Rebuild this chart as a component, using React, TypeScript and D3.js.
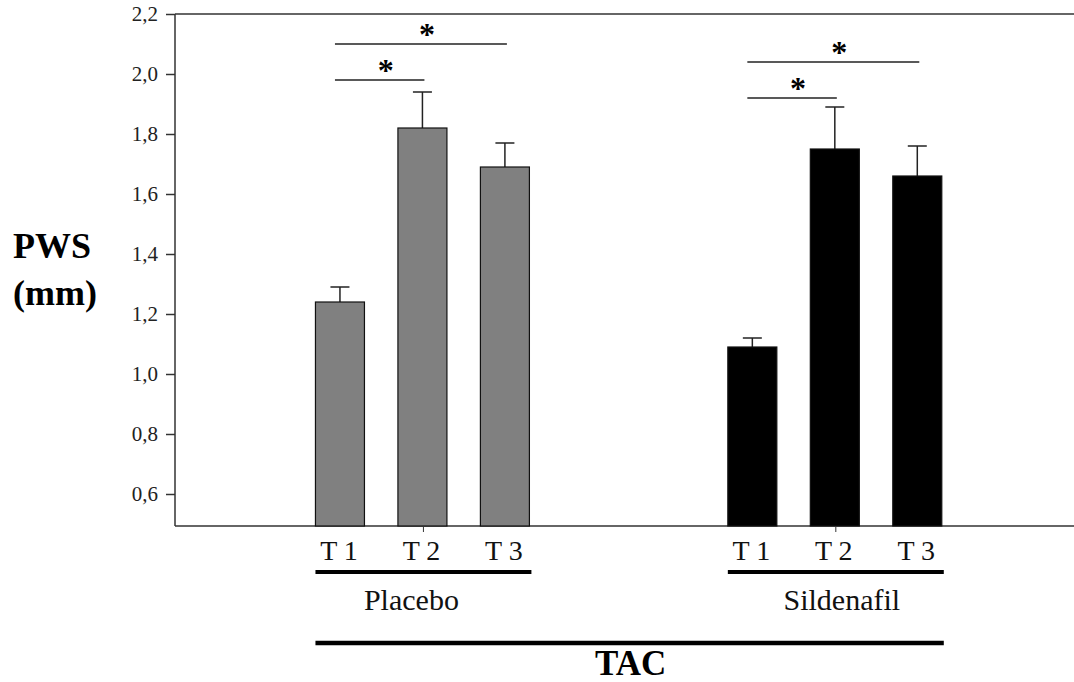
import React, { useRef, useEffect } from "react"
import * as d3 from "d3"

// values
const groups = ["Placebo", "Sildenafil"]
const times = ["T 1", "T 2", "T 3"]
const placeboMeans = [1.24, 1.82, 1.69]
const placeboErrTops = [1.29, 1.94, 1.77]
const sildenafilMeans = [1.09, 1.75, 1.66]
const sildenafilErrTops = [1.12, 1.89, 1.76]
const yTicks = [0.6, 0.8, 1.0, 1.2, 1.4, 1.6, 1.8, 2.0, 2.2]
// significance brackets: group, from time, to time, height (axis units)
const sigGroup = [0, 0, 1, 1]
const sigFrom = [0, 0, 0, 0]
const sigTo = [2, 1, 2, 1]
const sigLevel = [2.1, 1.98, 2.04, 1.92]

const W = 1074
const H = 682

const App = () => {
    const ref = useRef<SVGSVGElement>(null)

    useEffect(() => {
        const svg = d3.select(ref.current)
        svg.selectAll("*").remove()

        const left = 175
        const y = d3.scaleLinear().domain([0.5, 2.2]).range([524, 14])
        const yBottom = 526
        // slot scale: each time point takes one slot, groups are 5 slots apart
        const x = d3.scaleLinear().domain([0, 10.9]).range([left, W])
        const slot = (g: number, t: number) => x(g * 5 + t + 2)
        const barW = 49
        const axisColor = "#333"
        const serif = "'Liberation Serif', 'Times New Roman', serif"

        const rows = [
            { means: placeboMeans, errs: placeboErrTops, fill: "#808080" },
            { means: sildenafilMeans, errs: sildenafilErrTops, fill: "#000" },
        ]
        const bars = rows.flatMap((r, g) => r.means.map((m, t) => ({ g, t, m, e: r.errs[t], fill: r.fill })))

        // frame lines
        svg.append("line").attr("x1", left).attr("x2", W).attr("y1", y(2.2)).attr("y2", y(2.2))
            .attr("stroke", axisColor).attr("stroke-width", 1.5)
        svg.append("line").attr("x1", left).attr("x2", W).attr("y1", yBottom).attr("y2", yBottom)
            .attr("stroke", axisColor).attr("stroke-width", 1.5)

        // error bars (behind bars)
        const eb = svg.append("g").attr("stroke", "#222").attr("stroke-width", 1.5)
        bars.forEach(d => {
            const cx = slot(d.g, d.t)
            eb.append("line").attr("x1", cx).attr("x2", cx).attr("y1", y(d.m)).attr("y2", y(d.e))
            eb.append("line").attr("x1", cx - 9.5).attr("x2", cx + 9.5).attr("y1", y(d.e)).attr("y2", y(d.e))
        })

        svg.append("g").selectAll("rect").data(bars).enter().append("rect")
            .attr("x", d => slot(d.g, d.t) - barW / 2)
            .attr("width", barW)
            .attr("y", d => y(d.m))
            .attr("height", d => yBottom - y(d.m))
            .attr("fill", d => d.fill)
            .attr("stroke", "#111")
            .attr("stroke-width", 1.2)

        // y axis
        const yAxis = d3.axisLeft(y).tickValues(yTicks).tickSize(9).tickPadding(8)
            .tickFormat(d => d3.format(".1f")(d as number).replace(".", ","))
        const ya = svg.append("g").attr("transform", `translate(${left},0)`).call(yAxis)
            .attr("font-family", serif).attr("font-size", 21)
        ya.select(".domain").attr("d", `M0,${y(2.2)}V${yBottom}`).attr("stroke", axisColor).attr("stroke-width", 1.5)
        ya.selectAll(".tick line").attr("stroke", axisColor).attr("stroke-width", 1.5)
        ya.selectAll(".tick text").attr("fill", "#222")

        // small group-centre ticks under the axis
        groups.forEach((_, g) => {
            svg.append("line").attr("x1", slot(g, 1) + 1).attr("x2", slot(g, 1) + 1)
                .attr("y1", yBottom).attr("y2", yBottom + 6).attr("stroke", axisColor)
        })

        // time labels
        bars.forEach(d => {
            svg.append("text").attr("x", slot(d.g, d.t) - 1).attr("y", 560)
                .attr("text-anchor", "middle").attr("font-family", serif).attr("font-size", 28)
                .attr("fill", "#111").text(times[d.t])
        })

        // group underlines and names
        groups.forEach((name, g) => {
            const x0 = slot(g, 0) - barW / 2
            const x1 = slot(g, 2) + barW / 2 + 2
            svg.append("line").attr("x1", x0).attr("x2", x1).attr("y1", 572).attr("y2", 572)
                .attr("stroke", "#000").attr("stroke-width", 4)
            svg.append("text").attr("x", (x0 + x1) / 2 - (g === 0 ? 12 : -6)).attr("y", 610)
                .attr("text-anchor", "middle").attr("font-family", serif).attr("font-size", 30)
                .attr("fill", "#111").text(name)
        })

        // TAC
        const t0 = slot(0, 0) - barW / 2
        const t1 = slot(1, 2) + barW / 2 + 2
        svg.append("line").attr("x1", t0).attr("x2", t1).attr("y1", 643).attr("y2", 643)
            .attr("stroke", "#000").attr("stroke-width", 4.5)
        svg.append("text").attr("x", (t0 + t1) / 2 + 1).attr("y", 675)
            .attr("text-anchor", "middle").attr("font-family", serif).attr("font-weight", "bold")
            .attr("font-size", 35).attr("fill", "#000").text("TAC")

        // y label
        svg.append("text").attr("x", 13).attr("y", 258).attr("font-family", serif)
            .attr("font-weight", "bold").attr("font-size", 36).attr("fill", "#000").text("PWS")
        svg.append("text").attr("x", 13).attr("y", 305).attr("font-family", serif)
            .attr("font-weight", "bold").attr("font-size", 36).attr("fill", "#000").text("(mm)")

        // significance brackets
        sigLevel.forEach((lv, i) => {
            const xa = slot(sigGroup[i], sigFrom[i]) - 5
            const xb = slot(sigGroup[i], sigTo[i]) + 2
            svg.append("line").attr("x1", xa).attr("x2", xb).attr("y1", y(lv)).attr("y2", y(lv))
                .attr("stroke", "#222").attr("stroke-width", 1.5)
            svg.append("text").attr("x", (xa + xb) / 2 + 6).attr("y", y(lv) + 1)
                .attr("text-anchor", "middle").attr("font-family", serif).attr("font-weight", "bold")
                .attr("font-size", 32).attr("fill", "#000").text("*")
        })
    }, [])

    return (
        <div style={{ position: "absolute", left: 0, top: 0 }}>
            <svg ref={ref} width={W} height={H} style={{ display: "block", background: "#fff" }}></svg>
        </div>
    )
}

export default App
